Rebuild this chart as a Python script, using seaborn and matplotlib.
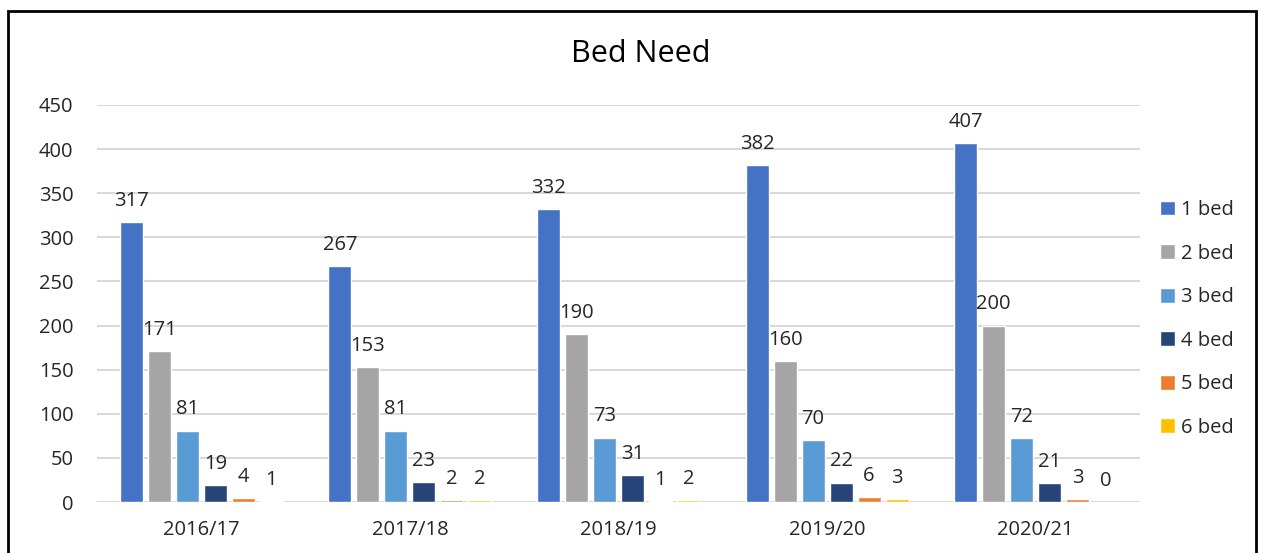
# ---------------- Import Libraries -----------------
import pandas as pd
import matplotlib.pyplot as plt
import seaborn as sns
from matplotlib.patches import Rectangle

# ---------------- Data -----------------
years = ["2016/17", "2017/18", "2018/19", "2019/20", "2020/21"]
bed_types = ["1 bed", "2 bed", "3 bed", "4 bed", "5 bed", "6 bed"]

bed1 = [317, 267, 332, 382, 407]
bed2 = [171, 153, 190, 160, 200]
bed3 = [81, 81, 73, 70, 72]
bed4 = [19, 23, 31, 22, 21]
bed5 = [4, 2, 1, 6, 3]
bed6 = [1, 2, 2, 3, 0]

colours = ["#4472C4", "#A5A5A5", "#5B9BD5", "#264478", "#ED7D31", "#FFC000"]

# build long-form table for seaborn
rows = []
for bed, vals in zip(bed_types, [bed1, bed2, bed3, bed4, bed5, bed6]):
    for yr, v in zip(years, vals):
        rows.append({"Year": yr, "Bed": bed, "Need": v})
df = pd.DataFrame(rows)

# ---------------- Plot -----------------
sns.set_theme(style="white")
plt.rcParams["font.family"] = ["Open Sans", "DejaVu Sans"]

fig = plt.figure(figsize=(12.61, 5.53), dpi=100)
ax = fig.add_axes([97 / 1261, 51 / 553, 1043 / 1261, 397 / 553])

sns.barplot(data=df, x="Year", y="Need", hue="Bed", order=years, hue_order=bed_types,
            palette=colours, width=0.805, gap=0.18, saturation=1, ax=ax)

for cont in ax.containers:                   # value labels above each bar
    ax.bar_label(cont, labels=[f"{int(b.get_height())}" for b in cont],
                 padding=8, fontsize=14.5, color="#262626")

ax.set_ylim(0, 450)
ax.set_xlim(-0.5, 4.5)
ax.set_yticks(range(0, 451, 50))
ax.yaxis.grid(True, color="#D9D9D9", linewidth=1.5)
ax.set_axisbelow(True)
for s in ax.spines.values():
    s.set_visible(False)
ax.tick_params(axis="both", length=0, labelsize=14.5, colors="#262626")
ax.tick_params(axis="y", pad=17)
ax.tick_params(axis="x", pad=13)
ax.set_xlabel("")
ax.set_ylabel("")

fig.text(0.508, 0.903, "Bed Need", ha="center", va="center", fontsize=22, color="#000000")

ax.legend(loc="center left", bbox_to_anchor=(1.002, 0.461), frameon=False, fontsize=14.5,
          handlelength=0.75, handleheight=0.75, handletextpad=0.3, labelspacing=1.17,
          labelcolor="#262626")

# black border around the chart
fig.patches.append(Rectangle((8 / 1261, -0.05), 1248 / 1261, 1.05 - 11 / 553,
                             transform=fig.transFigure, fill=False,
                             edgecolor="black", linewidth=2))

fig.savefig("out.png", dpi=100)
plt.close()
